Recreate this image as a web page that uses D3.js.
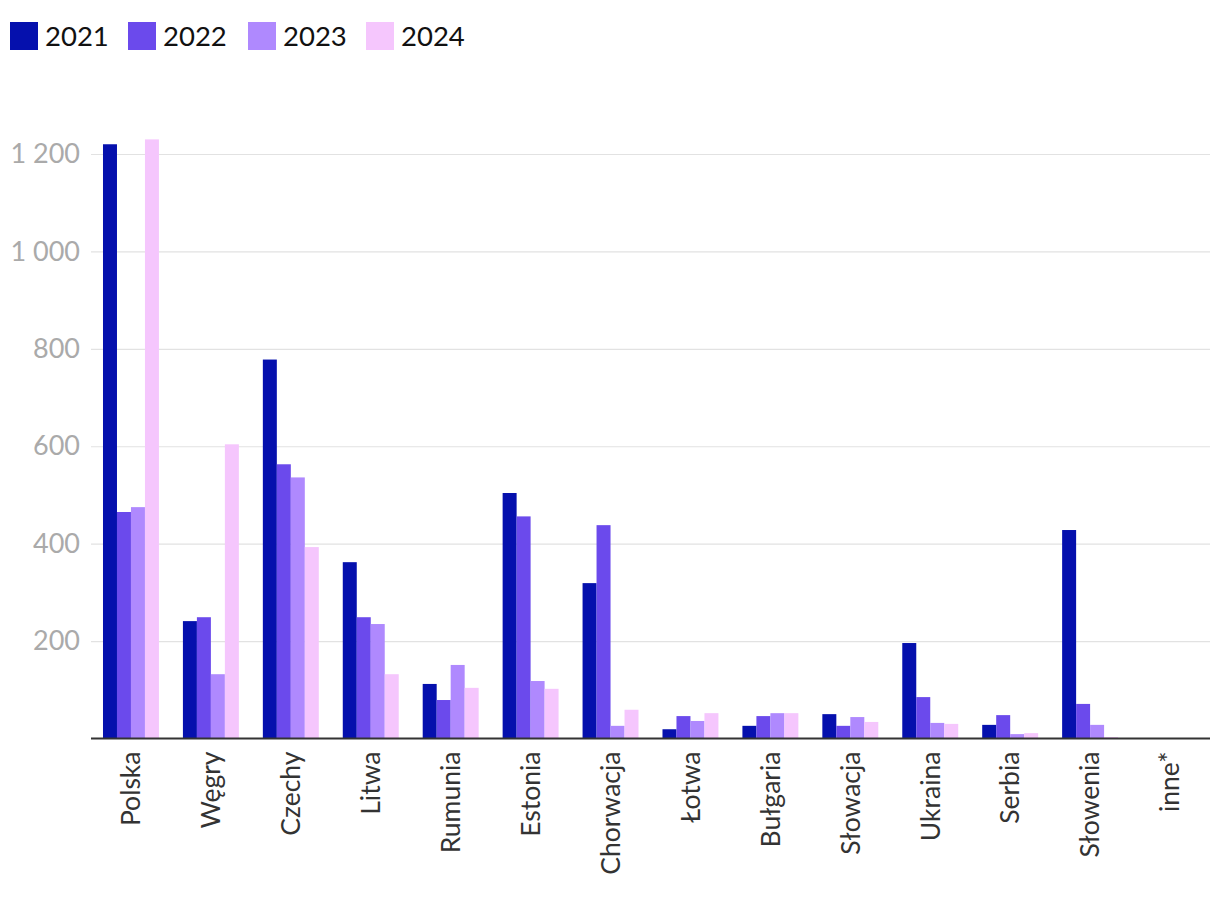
<!DOCTYPE html>
<html><head><meta charset="utf-8">
<script src="https://cdn.jsdelivr.net/npm/d3@7"></script>
<style>body{margin:0;background:#fff;font-family:Lato,sans-serif;}</style>
</head><body><svg id="c" width="1220" height="898"></svg>
<script>
const categories = ["Polska","Węgry","Czechy","Litwa","Rumunia","Estonia","Chorwacja","Łotwa","Bułgaria","Słowacja","Ukraina","Serbia","Słowenia","inne*"];
const seriesNames = ["2021","2022","2023","2024"];
const v2021 = [1220,241,778,362,112,504,319,19,26,50,196,28,428,0];
const v2022 = [465,249,563,249,79,456,438,46,46,26,85,48,71,0];
const v2023 = [475,132,536,235,151,118,26,36,52,44,32,9,28,0];
const v2024 = [1230,604,393,132,104,102,59,52,52,34,30,11,3,0];
const yTicks = [200,400,600,800,1000,1200];
const colors = ["#0510AD","#6B4AEC","#AF89FE","#F5C6FD"];
const series = [v2021,v2022,v2023,v2024];

const svg = d3.select("#c");
const mLeft = 91, mRight = 1210, mTop = 154, mBottom = 738.5;
const y = d3.scaleLinear().domain([0,1200]).range([mBottom, mTop]);
const x = d3.scaleBand().domain(categories).range([mLeft, mRight]).paddingInner(0.3).paddingOuter(0.15);
const xs = d3.scaleBand().domain(seriesNames).range([0, x.bandwidth()]);

// grid
const gy = svg.append("g").attr("transform", `translate(${mLeft},0)`)
  .call(d3.axisLeft(y).tickValues(yTicks).tickSize(-(mRight-mLeft)).tickPadding(11)
    .tickFormat(d => d3.format(",")(d).replace(/,/g, " ")));
gy.select(".domain").remove();
gy.selectAll(".tick line").attr("stroke","#e2e2e2").attr("stroke-width",1.2);
gy.selectAll(".tick text").attr("fill","#aaaaaa").attr("font-size",27).attr("font-family","Lato").style("white-space","pre");

// bars
categories.forEach((c,i)=>{
  series.forEach((s,j)=>{
    svg.append("rect")
      .attr("x", x(c)+xs(seriesNames[j]))
      .attr("y", y(s[i]))
      .attr("width", xs.bandwidth())
      .attr("height", mBottom - y(s[i]))
      .attr("fill", colors[j]);
  });
});

// x axis
const gx = svg.append("g").attr("transform", `translate(0,${mBottom})`)
  .call(d3.axisBottom(x).tickSize(0).tickPadding(0));
gx.select(".domain").attr("stroke","#333").attr("stroke-width",2.2).attr("d",`M${mLeft},0H${mRight}`);
gx.selectAll(".tick text")
  .attr("fill","#333").attr("font-size",26.5).attr("font-family","Lato")
  .attr("transform","rotate(-90)")
  .attr("text-anchor","end").attr("x",-13).attr("y",0).attr("dy","0.35em");

// legend
const legX = [10,128,248,366];
seriesNames.forEach((n,j)=>{
  svg.append("rect").attr("x",legX[j]).attr("y",22).attr("width",28).attr("height",28).attr("fill",colors[j]);
  svg.append("text").attr("x",legX[j]+35).attr("y",46).attr("font-size",27.5).attr("font-family","Lato").attr("fill","#111").text(n);
});
</script></body></html>
